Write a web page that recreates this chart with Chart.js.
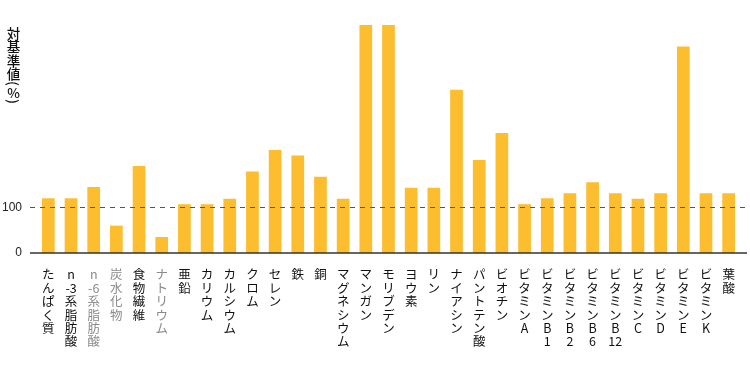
<!DOCTYPE html>
<html>
<head>
<meta charset="utf-8">
<script src="https://cdn.jsdelivr.net/npm/chart.js@4/dist/chart.umd.min.js"></script>
<style>
  html, body { margin: 0; padding: 0; background: #fff; }
  #wrap { position: relative; width: 750px; height: 376px; }
  #yTitle {
    position: absolute; left: 6px; top: 27px;
    writing-mode: vertical-rl; text-orientation: upright;
    font-family: "Noto Sans CJK JP", sans-serif; font-size: 13.5px; line-height: 1;
    color: #111; font-weight: 500;
  }
  #yTitle .rot { text-orientation: mixed; }
</style>
</head>
<body>
<div id="wrap">
  <canvas id="chart" width="750" height="376"></canvas>
  <div id="yTitle">対基準値<span class="rot">(</span>%<span class="rot">)</span></div>
</div>
<script>
// categories and values (% of reference intake)
const categories = [
  "たんぱく質", "n-3系脂肪酸", "n-6系脂肪酸", "炭水化物", "食物繊維", "ナトリウム",
  "亜鉛", "カリウム", "カルシウム", "クロム", "セレン", "鉄", "銅", "マグネシウム",
  "マンガン", "モリブデン", "ヨウ素", "リン", "ナイアシン", "パントテン酸", "ビオチン",
  "ビタミンA", "ビタミンB1", "ビタミンB2", "ビタミンB6", "ビタミンB12", "ビタミンC",
  "ビタミンD", "ビタミンE", "ビタミンK", "葉酸"
];
const values = [
  120, 120, 145, 60, 191, 35,
  107, 107, 119, 179, 226, 214, 167, 119,
  500, 500, 143, 143, 358, 204, 263,
  107, 120, 131, 155, 131, 119,
  131, 453, 131, 131
];
const grayCategories = ["n-6系脂肪酸", "炭水化物", "ナトリウム"];
const yTicks = [0, 100];

// one character per line so the labels read top to bottom
const splitLabel = s => s.match(/-?\d+|./gu);

const refLines = {
  id: 'refLines',
  afterDatasetsDraw(chart) {
    const { ctx, chartArea, scales } = chart;
    const left = chartArea.left - 7, right = chartArea.right + 7;
    const y100 = Math.round(scales.y.getPixelForValue(100)) + 0.5;
    const y0 = scales.y.getPixelForValue(0);
    ctx.save();
    ctx.strokeStyle = '#555';
    ctx.lineWidth = 1;
    ctx.setLineDash([5, 5]);
    ctx.beginPath();
    ctx.moveTo(left, y100);
    ctx.lineTo(right, y100);
    ctx.stroke();
    ctx.setLineDash([]);
    ctx.strokeStyle = '#333';
    ctx.lineWidth = 1.6;
    ctx.beginPath();
    ctx.moveTo(left, y0);
    ctx.lineTo(right, y0);
    ctx.stroke();
    ctx.restore();
  }
};

new Chart(document.getElementById('chart'), {
  type: 'bar',
  data: {
    labels: categories.map(splitLabel),
    datasets: [{
      data: values,
      backgroundColor: '#FCBD2F',
      borderWidth: 0,
      barPercentage: 0.56,
      categoryPercentage: 1
    }]
  },
  options: {
    responsive: false,
    animation: false,
    layout: { padding: { top: 25, right: 6, left: 0, bottom: 0 } },
    plugins: { legend: { display: false }, tooltip: { enabled: false } },
    scales: {
      x: {
        grid: { display: false, drawTicks: false },
        border: { display: false },
        afterFit(scale) { scale.height = 123; },
        ticks: {
          autoSkip: false,
          maxRotation: 0,
          minRotation: 0,
          padding: 15,
          font: { family: '"Noto Sans CJK JP", sans-serif', size: 12.5, lineHeight: 1.07 },
          color: ctx => grayCategories.includes(categories[ctx.index]) ? '#8a8a8a' : '#111'
        }
      },
      y: {
        min: 0,
        max: 500,
        grid: { display: false, drawTicks: false },
        border: { display: false },
        afterFit(scale) { scale.width = 37; },
        afterBuildTicks(scale) { scale.ticks = yTicks.map(v => ({ value: v })); },
        ticks: {
          padding: 15,
          font: { family: '"Liberation Sans", sans-serif', size: 12 },
          color: '#222'
        }
      }
    }
  },
  plugins: [refLines]
});
</script>
</body>
</html>
